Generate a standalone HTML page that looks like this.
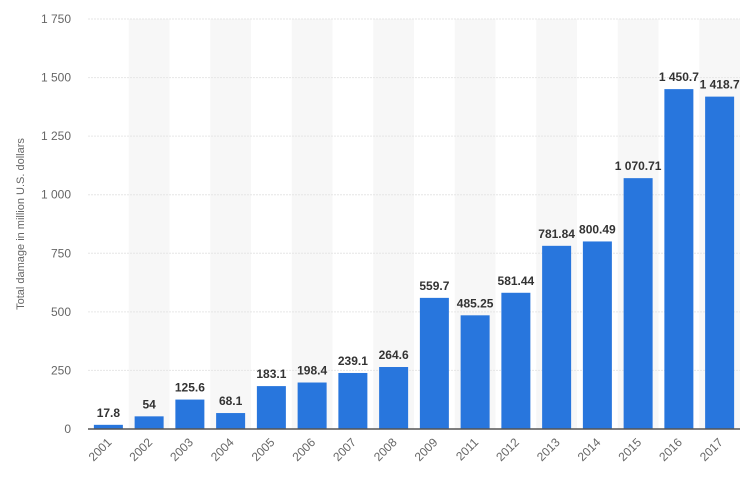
<!DOCTYPE html>
<html><head><meta charset="utf-8"><style>
body{margin:0;background:#fff;font-family:"Liberation Sans",sans-serif}
</style></head><body>
<svg id="chart" width="754" height="485" xmlns="http://www.w3.org/2000/svg"></svg>
<script>
const categories=["2001","2002","2003","2004","2005","2006","2007","2008","2009","2011","2012","2013","2014","2015","2016","2017"];
const values=[17.8,54,125.6,68.1,183.1,198.4,239.1,264.6,559.7,485.25,581.44,781.84,800.49,1070.71,1450.7,1418.7];
const valueLabels=["17.8","54","125.6","68.1","183.1","198.4","239.1","264.6","559.7","485.25","581.44","781.84","800.49","1 070.71","1 450.7","1 418.7"];
const yTicks=[0,250,500,750,1000,1250,1500,1750];
const yTickLabels=["0","250","500","750","1 000","1 250","1 500","1 750"];
const svgEl=document.getElementById('chart');
const NS="http://www.w3.org/2000/svg";
const plotLeft=88,plotRight=740,plotTop=19,plotBottom=429,yMax=1750;
const band=(plotRight-plotLeft)/categories.length;
const barW=29;
function yS(v){return plotBottom-(v/yMax)*(plotBottom-plotTop);}
function xS(i){return plotLeft+band*i;}
function mk(t,a){const e=document.createElementNS(NS,t);for(const k in a)e.setAttribute(k,a[k]);svgEl.appendChild(e);return e;}
categories.forEach((c,i)=>{if(i%2===1){const r=mk('rect',{x:xS(i),y:plotTop,width:band,height:plotBottom-plotTop,fill:'#f7f7f7'});

}});
yTicks.forEach((t,i)=>{
const l=mk('line',{x1:plotLeft,x2:plotRight,y1:yS(t),y2:yS(t),stroke:'#e6e6e6','stroke-dasharray':t?'2,1':'none'});


const tx=mk('text',{x:71,y:yS(t)+4,'text-anchor':'end','font-size':12,fill:'#666'});tx.textContent=yTickLabels[i];


});
categories.forEach((c,i)=>{
const cx=xS(i)+band/2;
const r=mk('rect',{x:cx-barW/2,y:yS(values[i]),width:barW,height:plotBottom-yS(values[i]),fill:'#2876dd'});


const vl=mk('text',{x:cx,y:yS(values[i])-8,'text-anchor':'middle','font-size':12,'font-weight':'bold',fill:'#333'});vl.textContent=valueLabels[i];


const xl=mk('text',{x:cx+4,y:443,'text-anchor':'end','font-size':12,fill:'#666',transform:`rotate(-45 ${cx+4} 443)`});xl.textContent=c;


});
const ax=mk('line',{x1:plotLeft,x2:plotRight,y1:plotBottom,y2:plotBottom,stroke:'#555','stroke-width':1.5});


const yt=mk('text',{x:24,y:224,'text-anchor':'middle','font-size':11,fill:'#666',transform:'rotate(-90 24 224)'});yt.textContent='Total damage in million U.S. dollars';


</script>
</body></html>
